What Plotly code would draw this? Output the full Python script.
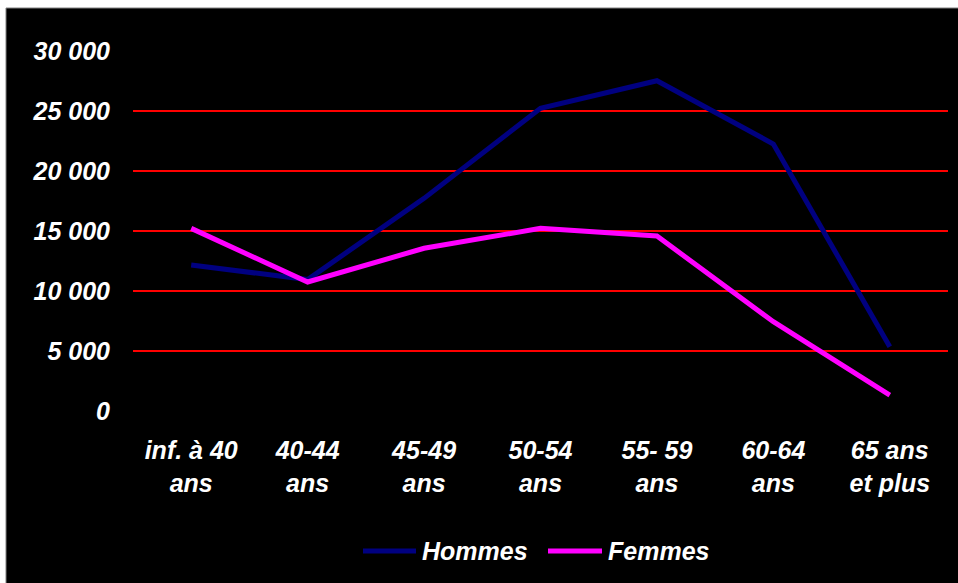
import plotly.graph_objects as go

# Age groups and headcounts by sex
categories = ["inf. à 40<br>ans", "40-44<br>ans", "45-49<br>ans", "50-54<br>ans",
              "55- 59<br>ans", "60-64<br>ans", "65 ans<br>et plus"]
hommes = [12170, 10950, 17720, 25230, 27520, 22250, 5350]
femmes = [15220, 10750, 13560, 15220, 14580, 7440, 1320]

series_names = ["Hommes", "Femmes"]
series_colors = ["#000080", "#FF00FF"]

y_tickvals = [0, 5000, 10000, 15000, 20000, 25000, 30000]
y_ticktext = ["0", "5 000", "10 000", "15 000", "20 000", "25 000", "30 000"]

W, H = 958, 583
ML, MR, MT, MB = 133, 10, 51, 172
pw, ph = W - ML - MR, H - MT - MB


def px_x(px):
    return (px - ML) / pw


def px_y(py):
    return (H - MB - py) / ph


font = dict(family="Liberation Sans, Arial, sans-serif", size=25,
            color="white", weight="bold", style="italic")

fig = go.Figure()
for name, vals, col in zip(series_names, [hommes, femmes], series_colors):
    fig.add_trace(go.Scatter(x=categories, y=vals, name=name, mode="lines",
                             line=dict(color=col, width=5), showlegend=False))

# Legend drawn as key lines plus labels below the plot
shapes = [dict(type="rect", xref="paper", yref="paper", layer="below",
               x0=px_x(6), x1=px_x(W + 5), y0=px_y(H + 5), y1=px_y(8),
               fillcolor="black", line=dict(color="#808080", width=1))]
annotations = []
legend_y = px_y(551)
for name, col, x0, x1 in zip(series_names, series_colors, [363, 548], [416, 602]):
    shapes.append(dict(type="line", xref="paper", yref="paper",
                       x0=px_x(x0), x1=px_x(x1), y0=legend_y, y1=legend_y,
                       line=dict(color=col, width=5)))
    annotations.append(dict(text=name, xref="paper", yref="paper",
                            x=px_x(x1 + 4), y=legend_y, xanchor="left",
                            yanchor="middle", showarrow=False, font=font))

fig.update_layout(
    width=W, height=H,
    margin=dict(l=ML, r=MR, t=MT, b=MB, pad=0),
    paper_bgcolor="white",
    plot_bgcolor="black",
    font=font,
    showlegend=False,
    xaxis=dict(showgrid=False, showline=False, zeroline=False,
               range=[-0.5, 6.5], tickfont=font, ticks="",
               ticklabelstandoff=22),
    yaxis=dict(range=[0, 30000], tickvals=y_tickvals, ticktext=y_ticktext,
               showgrid=True, gridcolor="#FF0000", gridwidth=2,
               zeroline=True, zerolinecolor="black", zerolinewidth=3,
               showline=False, ticks="", tickfont=font,
               ticklabelstandoff=22),
    shapes=shapes,
    annotations=annotations,
)

fig.write_html("out.html")
